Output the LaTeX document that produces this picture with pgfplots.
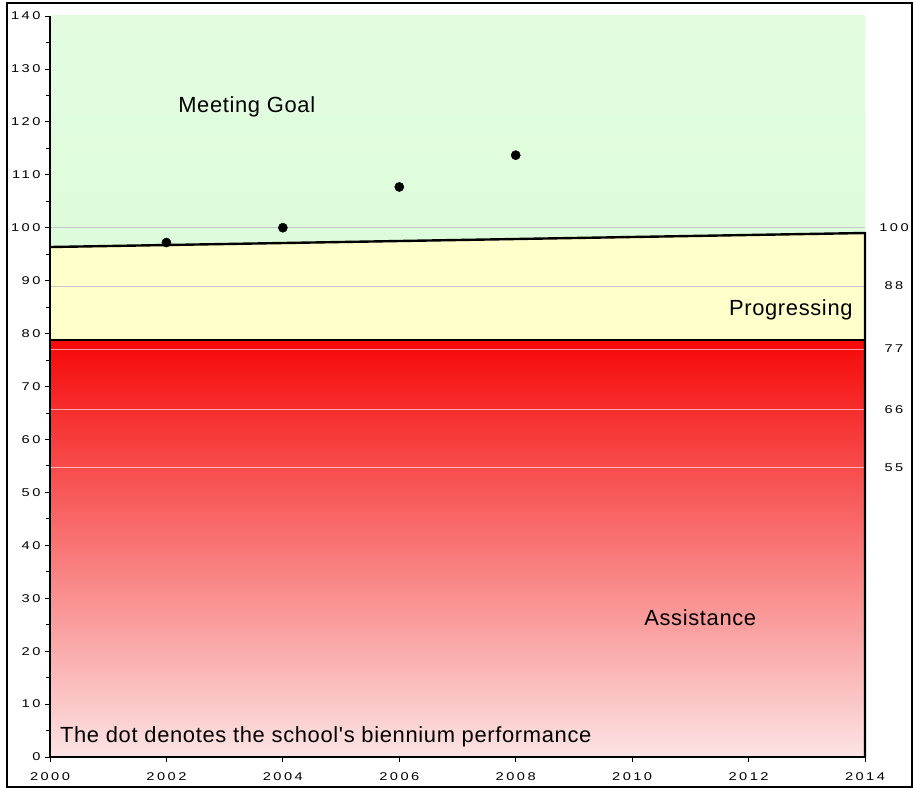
\documentclass[border=0pt]{standalone}
\usepackage{fontspec}
\setmainfont{Liberation Sans}
\usepackage{pgfplots}
\pgfplotsset{compat=1.18}
\newfontfamily\tickfont[FakeStretch=1.3,LetterSpace=22]{Liberation Sans}
\newfontfamily\labfont[LetterSpace=3]{Liberation Sans}
\definecolor{greentop}{RGB}{227,252,225}
\definecolor{greenbot}{RGB}{208,251,204}
\definecolor{yel}{RGB}{255,255,204}
\definecolor{redtop}{RGB}{246,8,8}
\definecolor{redbot}{RGB}{252,228,228}
\definecolor{gridg}{RGB}{200,200,200}
\begin{document}
\begin{tikzpicture}
\useasboundingbox (-50bp,-31bp) rectangle (863bp,757bp);
\draw[line width=1.1bp] (-43bp,-30bp) rectangle (862bp,754bp);
\begin{axis}[
  at={(0,0)}, anchor=south west,
  width=815bp, height=741bp, scale only axis,
  xmin=2000, xmax=2014, ymin=0, ymax=140,
  clip=false, axis on top,
  axis x line*=bottom, axis y line*=left,
  axis line style={line width=2.4bp, black},
  xtick={2000,2002,2004,2006,2008,2010,2012,2014},
  xticklabels={2000,2002,2004,2006,2008,2010,2012,2014},
  ytick={0,10,20,30,40,50,60,70,80,90,100,110,120,130,140},
  yticklabels={0,10,20,30,40,50,60,70,80,90,100,110,120,130,140},
  minor y tick num=1,
  tick align=outside,
  major tick length=5bp, minor tick length=4bp,
  tick style={black, line width=0.8bp},
  xticklabel style={font=\tickfont\fontsize{11.3}{12}\selectfont, yshift=-7bp},
  yticklabel style={font=\tickfont\fontsize{11.3}{12}\selectfont, xshift=-1bp},
]
% background regions
\addplot[draw=none, top color=greentop, bottom color=greenbot] coordinates {(2000,140) (2014,140)} \closedcycle;
\addplot[draw=none, fill=yel] coordinates {(2000,96.35) (2014,99.0)} \closedcycle;
\addplot[draw=none, top color=redtop, bottom color=redbot] coordinates {(2000,78.8) (2014,78.8)} \closedcycle;
% data points
\addplot[only marks, mark=*, mark size=4.6bp, black] coordinates {(2002,97.2) (2004,100) (2006,107.7) (2008,113.7)};
% reference lines
\addplot[gridg, line width=0.8bp] coordinates {(2000,100) (2014,100)};
\addplot[gridg, line width=0.8bp] coordinates {(2000,88.9) (2014,88.9)};
\addplot[white, opacity=0.6, line width=0.8bp] coordinates {(2000,77.1) (2014,77.1)};
\addplot[white, opacity=0.6, line width=0.8bp] coordinates {(2000,65.7) (2014,65.7)};
\addplot[white, opacity=0.6, line width=0.8bp] coordinates {(2000,54.7) (2014,54.7)};
% borders
\addplot[black, line width=2.4bp] coordinates {(2000,96.35) (2014,99.0) (2014,0)};
\addplot[black, line width=2.4bp] coordinates {(2000,78.8) (2014,78.8)};
% texts
\node[anchor=west, font=\labfont\fontsize{22}{24}\selectfont, inner sep=0pt] at (axis cs:2002.2,122.8) {Meeting Goal};
\node[anchor=east, font=\labfont\fontsize{22}{24}\selectfont, inner sep=0pt] at (axis cs:2013.79,84.45) {Progressing};
\node[anchor=center, font=\labfont\fontsize{22}{24}\selectfont] at (axis cs:2011.17,26.26) {Assistance};
\node[anchor=west, font=\labfont\fontsize{22}{24}\selectfont, inner sep=0pt] at (axis cs:2000.17,3.78) {The dot denotes the school's biennium performance};
% right labels
\node[font=\tickfont\fontsize{11.3}{12}\selectfont] at ([xshift=29bp]axis cs:2014,100) {100};
\node[font=\tickfont\fontsize{11.3}{12}\selectfont] at ([xshift=29bp,yshift=1bp]axis cs:2014,88.9) {88};
\node[font=\tickfont\fontsize{11.3}{12}\selectfont] at ([xshift=29bp]axis cs:2014,77.1) {77};
\node[font=\tickfont\fontsize{11.3}{12}\selectfont] at ([xshift=29bp]axis cs:2014,65.7) {66};
\node[font=\tickfont\fontsize{11.3}{12}\selectfont] at ([xshift=29bp]axis cs:2014,54.7) {55};
\end{axis}
\end{tikzpicture}
\end{document}
